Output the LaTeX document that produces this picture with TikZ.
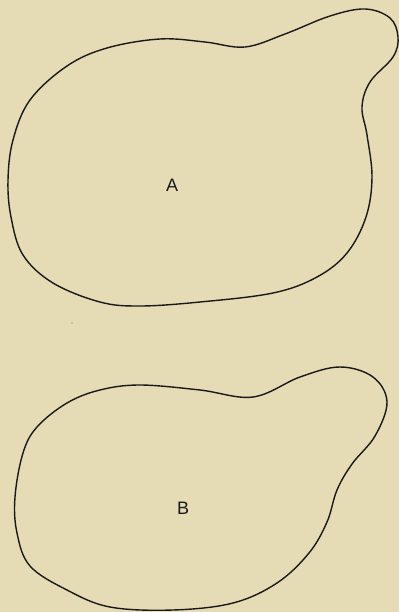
\documentclass[tikz,border=0pt]{standalone}
\usepackage{fontspec}
\setmainfont{Liberation Sans}
\begin{document}
\begin{tikzpicture}[x=1pt,y=-1pt,
  blob/.style={draw=black!90,line width=1.4pt,smooth cycle,tension=0.6},
  lbl/.style={font=\fontsize{18}{18}\selectfont,text=black!90,inner sep=0pt}]
\fill[fill={rgb,255:red,229;green,219;blue,181}] (0,0) rectangle (399,612);
\useasboundingbox (0,0) rectangle (399,612);
% shape A
\draw[blob] plot coordinates {(160,39) (205,42) (245,47) (285,34) (330,16) (365,9) (390,18) (398,37) (393,57) (370,82) (362,107) (367,135) (372,177) (366,217) (347,253) (317,277) (273,293) (200,302) (140,306) (100,302) (53,283) (23,255) (11,217) (8,180) (13,140) (30,100) (67,66) (107,48)};
\node[lbl] (A) at (172,185) {A};
% shape B
\draw[blob] plot coordinates {(140,385) (200,390) (253,397) (300,377) (340,367) (373,377) (387,402) (375,436) (352,464) (337,490) (327,522) (309,553) (277,583) (233,603) (173,610) (110,607) (67,590) (30,566) (17,533) (15,497) (23,453) (37,427) (67,403) (100,390)};
\node[lbl] (B) at (183,508) {B};
\fill[black!60] (72,323) circle (0.7);
\end{tikzpicture}
\end{document}
